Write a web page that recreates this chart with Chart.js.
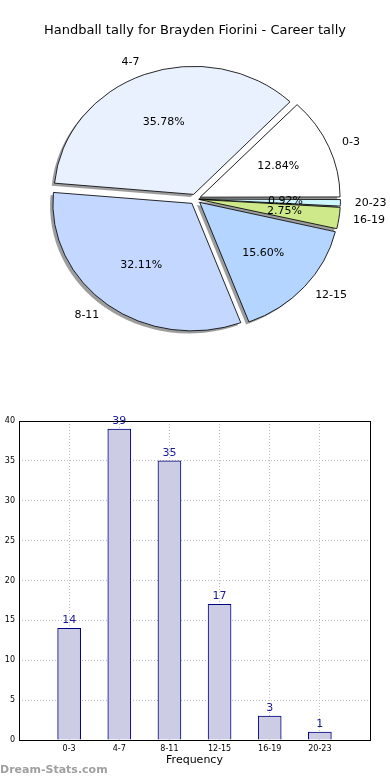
<!DOCTYPE html>
<html><head><meta charset="utf-8">
<script src="https://cdn.jsdelivr.net/npm/chart.js@4.4.1/dist/chart.umd.min.js"></script>
<style>
html,body{margin:0;padding:0;background:#fff;width:390px;height:780px;overflow:hidden;}
#title{position:absolute;left:0;top:22px;width:390px;text-align:center;font:13px "DejaVu Sans";color:#000;line-height:16px;}
#pie{position:absolute;left:0;top:0;}
#bar{position:absolute;left:0;top:400px;}
#wm{position:absolute;left:0;top:763px;font:bold 11px "DejaVu Sans";color:#a0a0a0;line-height:14px;}
</style></head><body>
<canvas id="pie" width="390" height="400"></canvas>
<canvas id="bar" width="390" height="380"></canvas>
<div id="title">Handball tally for Brayden Fiorini - Career tally</div>
<div id="wm">Dream-Stats.com</div>
<script>
// ---- data ----
const categories = ['0-3','4-7','8-11','12-15','16-19','20-23'];
const tallies = [14, 39, 35, 17, 3, 1];
const pieColors = ['#ffffff','#e9f0fe','#c3d7ff','#b4d5ff','#cde98a','#cdf5fd'];
const yMax = 40;
const yStep = 5;
const chartTitle = 'Handball tally for Brayden Fiorini - Career tally';
const xAxisTitle = 'Frequency';

// ---- pie ----
const total = tallies.reduce((a,b)=>a+b,0);
const revCats = categories.slice().reverse();
const revVals = tallies.slice().reverse();
const revCols = pieColors.slice().reverse();
const EXPLODE = 6;   // px shift of every wedge
const SX = 1.09;     // horizontal stretch (elliptical pie)
const offsets = revVals.map(v=>{
  const circ = 2*Math.PI*v/total;
  const fix = 1 - Math.sin(Math.min(Math.PI, circ));
  return 4*EXPLODE/(1+fix);
});

const pieShape = {
  id:'pieShape',
  beforeDatasetsDraw(chart){
    const meta = chart.getDatasetMeta(0);
    const a0 = meta.data[0];
    const ctx = chart.ctx;
    // shadows
    meta.data.forEach(arc=>{
      const o = arc.options;
      arc.options = Object.assign({}, o, {backgroundColor:'rgba(60,60,60,0.5)', borderWidth:0, borderColor:'rgba(0,0,0,0)'});
      ctx.save();
      ctx.translate(-2.8, 2.6);
      ctx.translate(a0.x, a0.y); ctx.scale(SX,1); ctx.translate(-a0.x, -a0.y);
      arc.draw(ctx);
      ctx.restore();
      arc.options = o;
    });
    ctx.save();
    ctx.translate(a0.x, a0.y); ctx.scale(SX,1); ctx.translate(-a0.x, -a0.y);
  },
  afterDatasetsDraw(chart){
    const ctx = chart.ctx;
    ctx.restore();
    const meta = chart.getDatasetMeta(0);
    ctx.save();
    ctx.font = '11px "DejaVu Sans"';
    ctx.fillStyle = '#000';
    ctx.textBaseline = 'middle';
    meta.data.forEach((arc,i)=>{
      const mid = (arc.startAngle+arc.endAngle)/2;
      const r = arc.outerRadius;
      const c = Math.cos(mid), s = Math.sin(mid);
      ctx.textAlign = c >= 0 ? 'left' : 'right';
      ctx.fillText(revCats[i], arc.x + SX*1.15*r*c, arc.y + 1.15*r*s);
      ctx.textAlign = 'center';
      ctx.fillText((100*revVals[i]/total).toFixed(2)+'%', arc.x + SX*0.65*r*c, arc.y + 0.65*r*s);
    });
    ctx.restore();
  }
};

new Chart(document.getElementById('pie'), {
  type:'pie',
  data:{labels:revCats, datasets:[{data:revVals, backgroundColor:revCols, borderColor:'#000', borderWidth:0.8, offset:offsets, hoverOffset:0}]},
  options:{
    responsive:false, animation:false, events:[],
    rotation:90, radius:127,
    layout:{padding:{left:1,right:0,top:1,bottom:3}},
    plugins:{legend:{display:false}, tooltip:{enabled:false}, title:{display:false}}
  },
  plugins:[pieShape]
});

// ---- bar ----
const barLabels = {
  id:'barLabels',
  afterDatasetsDraw(chart){
    const ctx = chart.ctx;
    const meta = chart.getDatasetMeta(0);
    ctx.save();
    ctx.font = '11px "DejaVu Sans"';
    ctx.fillStyle = '#1a1a9a';
    ctx.textAlign = 'center';
    ctx.textBaseline = 'middle';
    meta.data.forEach((b,i)=>{ ctx.fillText(String(tallies[i]), b.x, b.y - 8); });
    ctx.restore();
  },
  afterDraw(chart){
    const {left,top,right,bottom} = chart.chartArea;
    const ctx = chart.ctx;
    ctx.save();
    ctx.strokeStyle = '#000';
    ctx.lineWidth = 1;
    ctx.strokeRect(Math.round(left)+0.5, Math.round(top)+0.5, Math.round(right-left), Math.round(bottom-top));
    ctx.restore();
  }
};

new Chart(document.getElementById('bar'), {
  type:'bar',
  data:{datasets:[{
    data: tallies.map((v,i)=>({x:i, y:v})),
    backgroundColor:'#ccccE4', borderColor:'#000080', borderWidth:1, barThickness:23
  }]},
  options:{
    responsive:false, animation:false, events:[],
    layout:{padding:{top:21, right:20, left:0, bottom:9}},
    plugins:{legend:{display:false}, tooltip:{enabled:false}},
    scales:{
      x:{
        type:'linear', min:-1, max:6, offset:false, z:1,
        afterFit(s){ s.height = 31; },
        grid:{color:'#bdbdbd', lineWidth:1, drawTicks:false, offset:false},
        border:{display:false, dash:[1,2]},
        ticks:{stepSize:1, autoSkip:false, maxRotation:0, padding:4, color:'#000',
               font:{family:'DejaVu Sans', size:8},
               callback:(v)=> (categories[v] !== undefined ? categories[v] : '')},
        title:{display:true, text:xAxisTitle, color:'#000', font:{family:'DejaVu Sans', size:11}, padding:{top:0,bottom:4}}
      },
      y:{
        min:0, max:yMax, z:1,
        afterFit(s){ s.width = 19; },
        grid:{color:'#bdbdbd', lineWidth:1, drawTicks:false},
        border:{display:false, dash:[1,2]},
        ticks:{stepSize:yStep, padding:4, color:'#000', font:{family:'DejaVu Sans', size:8}}
      }
    }
  },
  plugins:[barLabels]
});
</script>
</body></html>
